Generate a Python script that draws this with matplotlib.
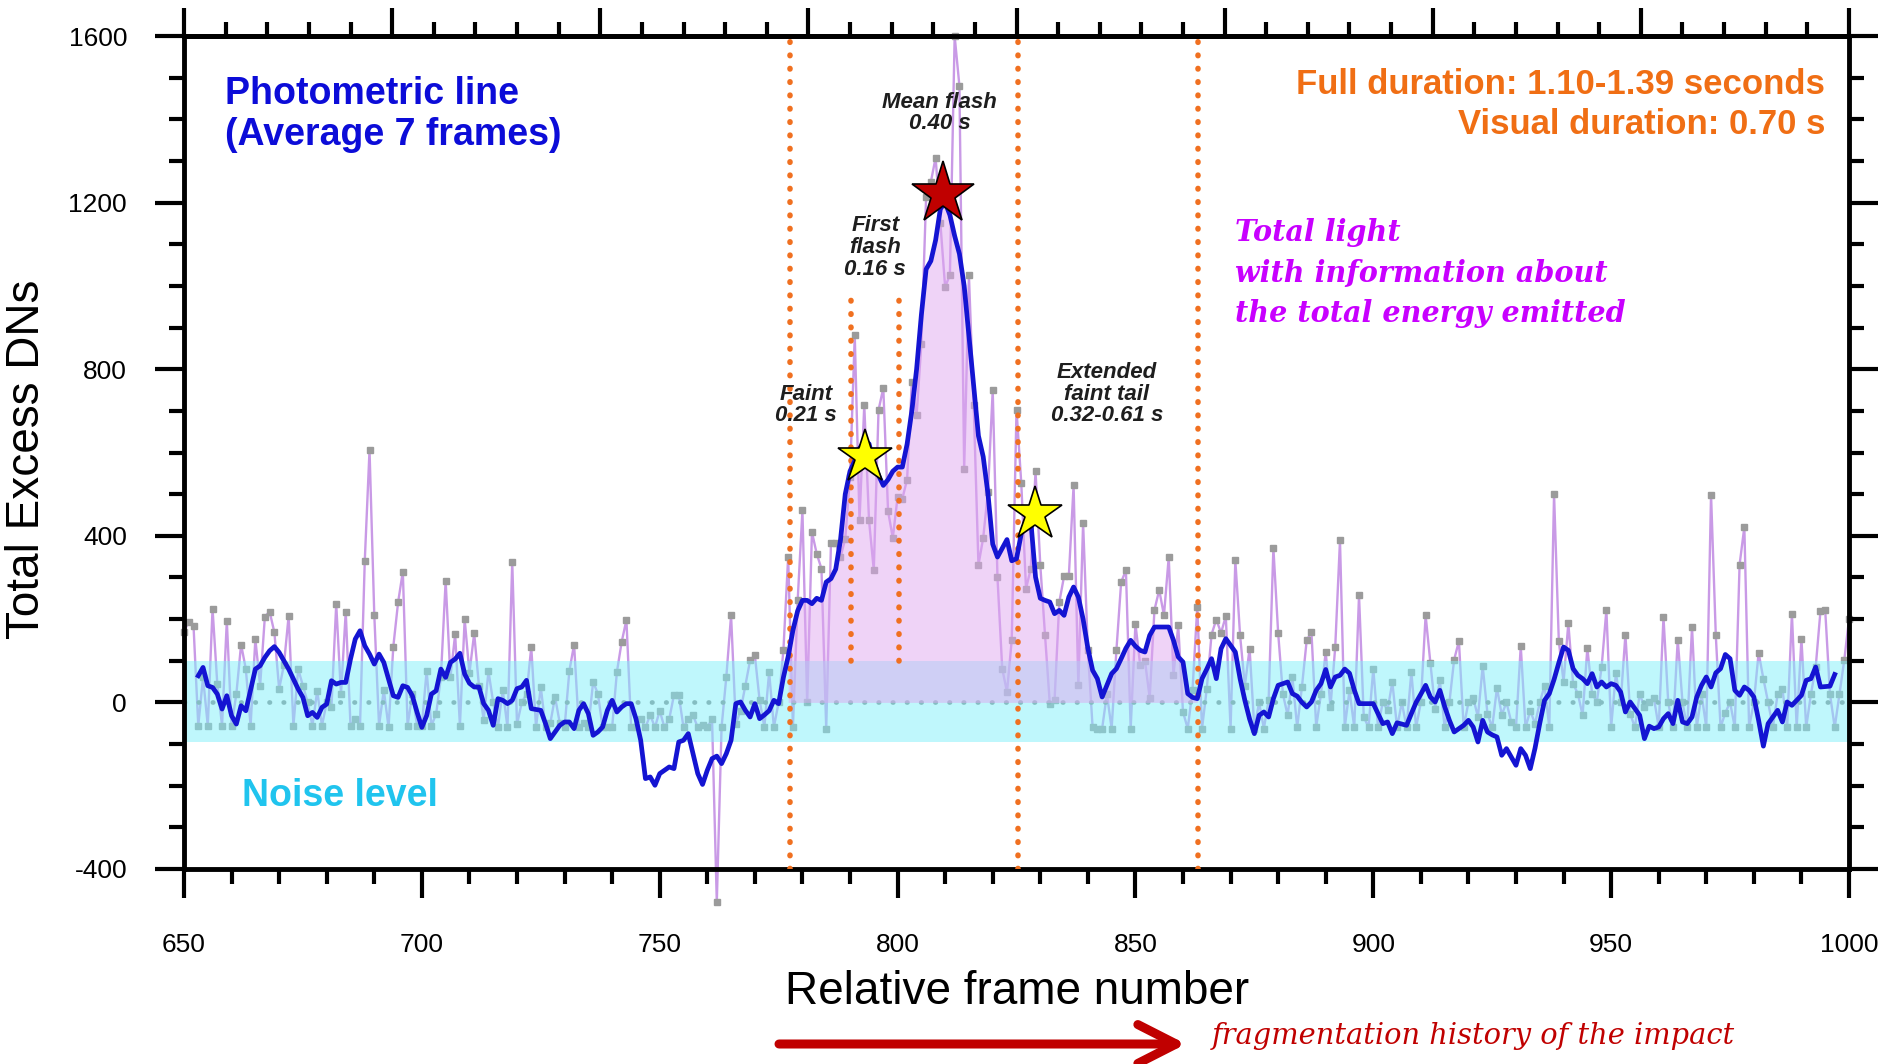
import matplotlib.pyplot as plt
import numpy as np
from matplotlib.ticker import MultipleLocator, FixedLocator, NullFormatter

plt.rcParams['font.family'] = ['Liberation Sans', 'DejaVu Sans']
plt.rcParams['axes.unicode_minus'] = False

# Raw excess DNs per frame (frames 650..1000)
RAW_START = 650
raw_dn = [
    170, 194, 184, -56, 60, -56, 225, 44, -56, 196,        # 650
    -56, 20, 139, 80, -56, 152, 40, 206, 218, 168,         # 660
    32, 90, 208, -56, 80, 40, 0, -56, 28, -56,             # 670
    0, -10, 236, 20, 218, -56, -40, -56, 340, 606,         # 680
    210, -56, 30, -60, 134, 240, 314, -56, 20, -56,        # 690
    -56, 76, -56, -28, 60, 292, 60, 164, -56, 200,         # 700
    70, 166, 40, -43, 75, 0, -60, 30, -60, 337,            # 710
    -53, 0, 20, 133, -60, 37, -60, -50, 13, -50,           # 720
    -60, 75, 139, -60, -50, -60, 49, 21, -60, -60,         # 730
    -60, 73, 145, 198, -60, -60, -40, -60, -30, -60,       # 740
    -20, -60, -40, 18, 18, -60, -40, -31, -60, -55,        # 750
    -60, -40, -480, -60, 61, 209, -51, -20, 40, 101,       # 760
    113, 5, -59, 73, -59, 0, 125, 349, -59, 245,           # 770
    461, 0, 409, 357, 321, -63, 382, 382, 349, 393,        # 780
    540, 881, 437, 714, 437, 318, 702, 755, 459, 395,      # 790
    493, 489, 535, 769, 689, 861, 1213, 1250, 1308, 1150,  # 800
    997, 1027, 1600, 1480, 561, 1025, 715, 330, 395, 505,  # 810
    750, 300, 81, 25, 150, 703, 527, 273, 321, 555,        # 820
    330, 161, -3, 5, 241, 303, 303, 521, 41, 431,          # 830
    125, -60, -63, -63, 20, -63, 125, 289, 317, -63,       # 840
    189, 89, 100, 11, 222, 270, 209, 349, 65, 185,         # 850
    -23, -63, 30, 229, -63, 33, 163, 199, 167, 207,        # 860
    -63, 341, 161, 40, 129, -63, 0, -63, 5, 371,           # 870
    167, 20, -31, 61, -60, 37, 149, 169, -59, 20,          # 880
    121, -11, 133, 389, -60, 29, -60, 257, -35, -60,       # 890
    81, -60, 1, -19, 49, -60, 0, -60, 73, -60,             # 900
    0, 209, 95, -15, 53, -60, 0, 103, 147, -60,            # 910
    0, 11, -35, 87, -27, -60, 35, -30, 0, -47,             # 920
    -60, 135, -60, -20, -51, 0, 40, -60, 500, 147,         # 930
    49, 190, 45, 21, -31, 131, 20, 2, 85, 222,             # 940
    -60, 70, 0, 163, -27, -60, 20, -11, 0, 10,             # 950
    -60, 205, 0, -60, 151, 0, -60, 181, -60, 20,           # 960
    -60, 499, 161, -60, -25, 0, -60, 331, 421, -60,        # 970
    0, 119, 57, 0, -60, 20, 33, -60, 213, -60,             # 980
    153, -60, 20, 85, 219, 221, 20, -60, 20, 101,          # 990
    200,                                                   # 1000
]

# Photometric line, 7-frame average (frames 653..997)
SMOOTH_START = 653
smooth_dn = [
    64, 84, 40, 36, 20, -16, 16,                           # 653
    -32, -52, -8, -20, 30, 80, 88, 108, 124, 134,          # 660
    120, 100, 80, 56, 32, 12, -32, -24, -36, -12,          # 670
    -4, 52, 44, 48, 48, 104, 152, 172, 136, 116,           # 680
    92, 116, 96, 56, 16, 12, 40, 36, 16, -24,              # 690
    -60, -32, 20, 28, 80, 60, 96, 104, 118, 68,            # 700
    46, 37, 37, -3, -19, -55, 9, 5, -3, 5,                 # 710
    33, 37, 53, -15, -17, -19, -51, -87, -71, -55,         # 720
    -47, -47, -63, -19, -3, -27, -79, -71, -59, -19,       # 730
    5, -23, -11, -3, -3, -39, -91, -183, -179, -199,       # 740
    -171, -163, -155, -159, -95, -91, -75, -123, -171, -197,  # 750
    -163, -135, -129, -147, -123, -91, -3, 1, -19, -35,    # 760
    -3, -39, -30, -20, 5, -3, 60, 110, 173, 220,           # 770
    245, 245, 237, 250, 245, 289, 297, 320, 390, 500,      # 780
    555, 580, 610, 625, 621, 575, 545, 521, 535, 555,      # 790
    565, 565, 620, 700, 800, 930, 1040, 1060, 1110, 1185,  # 800
    1200, 1170, 1120, 1077, 1000, 880, 760, 640, 590, 501,  # 810
    380, 349, 370, 391, 340, 345, 405, 437, 437, 301,      # 820
    250, 245, 241, 213, 221, 209, 253, 277, 253, 200,      # 830
    130, 77, 57, 13, 41, 69, 81, 105, 130, 149,            # 840
    135, 125, 121, 161, 181, 181, 181, 181, 149, 109,      # 850
    97, 21, 12, 9, 57, 80, 105, 57, 129, 153,              # 860
    137, 121, 57, 5, -40, -75, -31, -23, -35, 9,           # 870
    41, 45, 49, 21, 15, 0, -11, 1, 29, 45,                 # 880
    79, 37, 61, 65, 80, 70, 30, -3, -3, -3,                # 890
    -3, -27, -51, -47, -75, -49, -52, -55, -27, 0,         # 900
    20, 41, 13, 1, 29, -10, -43, -71, -63, -55,            # 910
    -43, -59, -95, -43, -71, -78, -83, -127, -111, -131,   # 920
    -151, -111, -127, -159, -110, -50, 5, 21, 55, 95,      # 930
    133, 125, 81, 65, 57, 45, 69, 37, 49, 37,              # 940
    45, 41, 25, -23, 1, -15, -31, -87, -57, -63,           # 950
    -59, -39, -27, -51, 5, -47, -51, -35, 13, 41,          # 960
    61, 37, 71, 81, 115, 105, 29, 17, 37, 29,              # 970
    13, -43, -105, -51, -35, -19, -47, 1, -7, 5,           # 980
    17, 53, 57, 85, 37, 38, 39, 67,                        # 990
]

noise_low, noise_high = -95, 100
full_lines = [777.3, 825.3, 863.1]          # phase boundaries (full height)
first_flash_lines = [790.2, 800.3]          # first flash boundaries
first_flash_span = (100, 990)
fill_range = (777, 863)

star_frames = [793.2, 809.6, 828.9]
star_values = [589, 1221, 453]
star_colors = ['#ffff00', '#c00000', '#ffff00']
star_sizes = [41, 47, 41]

W, H = 1895, 1064
fig = plt.figure(figsize=(W / 100, H / 100), dpi=100)
ax = fig.add_axes([184 / W, 1 - 869 / H, (1849 - 184) / W, (869 - 36) / H])

x_raw = np.arange(RAW_START, RAW_START + len(raw_dn))
x_sm = np.arange(SMOOTH_START, SMOOTH_START + len(smooth_dn))
smooth = np.array(smooth_dn, dtype=float)

# raw frames (drawn below the noise band)
ax.plot(x_raw, raw_dn, color='#c99ae6', lw=1.7, marker='s', ms=5,
        mfc='#9b9b9b', mec='#9b9b9b', zorder=1, clip_on=False)
ax.axhline(0, color='#8a8a8a', lw=3.4, ls=(0, (0.1, 2.9)),
           dash_capstyle='round', zorder=1.5)
ax.axhspan(noise_low, noise_high, color='#80f0fa', alpha=0.5, lw=0, zorder=2)

mask = (x_sm >= fill_range[0]) & (x_sm <= fill_range[1])
ax.fill_between(x_sm, 0, smooth, where=mask, color='#e0a8f0', alpha=0.5,
                lw=0, zorder=3)

dot_style = dict(color='#f07020', lw=4, ls=(0, (0.1, 2.3)),
                 dash_capstyle='round', zorder=4)
for f in full_lines:
    ax.axvline(f, **dot_style)
for f in first_flash_lines:
    ax.plot([f, f], list(first_flash_span), **dot_style)

ax.plot(x_sm, smooth, color='#1414d2', lw=3.4, zorder=5)

for fx, fy, c, s in zip(star_frames, star_values, star_colors, star_sizes):
    ax.plot(fx, fy, marker='*', ms=s, mfc=c, mec='black', mew=1.2, zorder=6)

# axes and ticks
ax.set_xlim(650, 1000)
ax.set_ylim(-400, 1600)
ax.xaxis.set_major_locator(MultipleLocator(50))
ax.xaxis.set_minor_locator(MultipleLocator(10))
ax.yaxis.set_major_locator(MultipleLocator(400))
ax.yaxis.set_minor_locator(MultipleLocator(100))
ax.tick_params(which='major', direction='out', length=21, width=3, labelsize=19)
ax.tick_params(which='minor', direction='out', length=11, width=3)
ax.tick_params(axis='x', which='major', pad=25)
ax.tick_params(axis='y', which='major', pad=20)
ax.tick_params(axis='y', which='both', right=True, labelright=False)
for sp in ax.spines.values():
    sp.set_linewidth(3.5)

secax = ax.secondary_xaxis('top')
secax.xaxis.set_major_locator(FixedLocator(np.arange(650, 1000.1, 43.75)))
secax.xaxis.set_minor_locator(FixedLocator(np.arange(650, 1000.1, 8.75)))
secax.xaxis.set_major_formatter(NullFormatter())
secax.tick_params(which='major', direction='out', length=20, width=3)
secax.tick_params(which='minor', direction='out', length=10, width=3)
secax.spines['top'].set_linewidth(3.5)

fig.text(27 / W, 1 - 459 / H, 'Total Excess DNs', fontsize=33,
         rotation=90, ha='center', va='center')
fig.text(1017 / W, 1 - 992 / H, 'Relative frame number', fontsize=33,
         ha='center', va='center')

# annotations
ax.text(658.6, 1412, 'Photometric line\n(Average 7 frames)', color='#0c0cd8',
        fontsize=27, fontweight='bold', ha='left', va='center', linespacing=1.2)
ax.text(662.2, -225, 'Noise level', color='#20c4ee', fontsize=27,
        fontweight='bold', ha='left', va='center')
ax.text(995, 1435, 'Full duration: 1.10-1.39 seconds\nVisual duration: 0.70 s',
        color='#f06e14', fontsize=25, fontweight='bold', ha='right',
        va='center', multialignment='right', linespacing=1.25)
ax.text(870.9, 1030, 'Total light\nwith information about\nthe total energy emitted',
        color='#c800ff', fontsize=20.6, family='DejaVu Serif', style='italic',
        fontweight='bold', ha='left', va='center', linespacing=1.5)

phase_style = dict(fontsize=16, fontweight='bold', style='italic', color='#1e1e1e',
                   ha='center', va='center', linespacing=1.05, zorder=7)
ax.text(808.9, 1415, 'Mean flash\n0.40 s', **phase_style)
ax.text(795.3, 1092, 'First\nflash\n0.16 s', **phase_style)
ax.text(780.8, 714, 'Faint\n0.21 s', **phase_style)
ax.text(844.0, 740, 'Extended\nfaint tail\n0.32-0.61 s', **phase_style)

# bottom arrow
ax.annotate('', xy=(1186 / W, 1 - 1044 / H), xytext=(779 / W, 1 - 1044 / H),
            xycoords='figure fraction', textcoords='figure fraction',
            arrowprops=dict(arrowstyle='->,head_length=0.55,head_width=0.28',
                            lw=6.5, color='#c00000', mutation_scale=50,
                            shrinkA=0, shrinkB=0),
            annotation_clip=False)
fig.text(1212 / W, 1 - 1036 / H, 'fragmentation history of the impact',
         color='#c00000', fontsize=20.8, family='DejaVu Serif', style='italic',
         ha='left', va='center')

fig.savefig('out.png', dpi=100)
